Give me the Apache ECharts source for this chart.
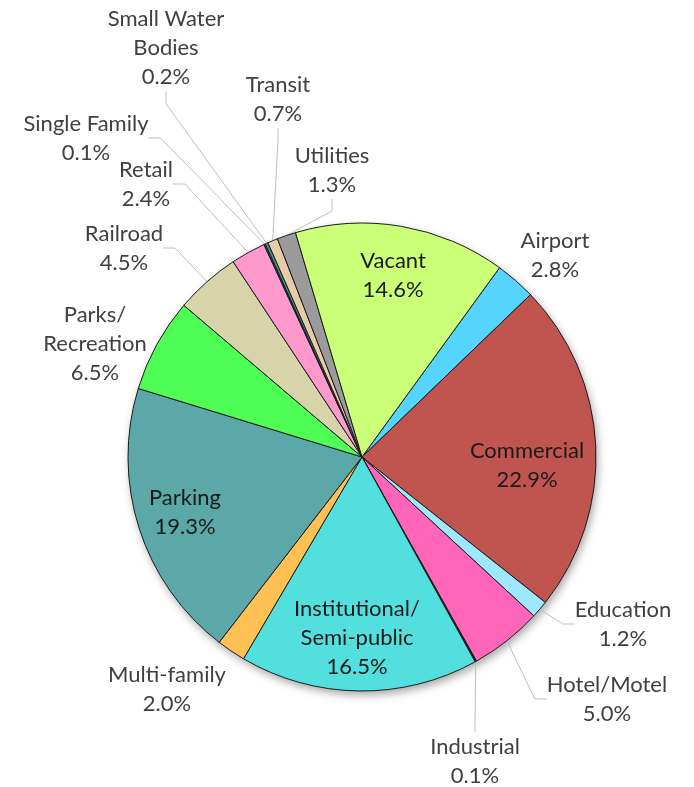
<!DOCTYPE html>
<html>
<head>
<meta charset="utf-8">
<script src="https://cdn.jsdelivr.net/npm/echarts@6/dist/echarts.min.js"></script>
<style>
  html, body { margin: 0; padding: 0; background: #fff; }
  #landUse { width: 694px; height: 787px; }
</style>
</head>
<body>
<div id="landUse"></div>
<script>
// land use shares, in percent
const categories = ['Airport', 'Commercial', 'Education', 'Hotel/Motel', 'Industrial',
  'Institutional/\nSemi-public', 'Multi-family', 'Parking', 'Parks/\nRecreation', 'Railroad',
  'Retail', 'Single Family', 'Small Water\nBodies', 'Transit', 'Utilities', 'Vacant'];
const shares = [2.8, 22.9, 1.2, 5.0, 0.1, 16.5, 2.0, 19.3, 6.5, 4.5, 2.4, 0.1, 0.2, 0.7, 1.3, 14.6];
const colors = ['#55d4fe', '#c0554f', '#9ee8fd', '#ff66b9', '#222222', '#52dfdd', '#ffc153', '#5ca7a8',
  '#4efe55', '#d8d4aa', '#ff99cd', '#1f5a5a', '#3f8f8f', '#e8cba7', '#9b9b9b', '#cbff77'];

// where Excel put each label (center of the text block)
const labelSpot = {
  'Airport': [555, 255],
  'Commercial': [527, 465],
  'Education': [623, 624],
  'Hotel/Motel': [607, 699],
  'Industrial': [475, 761],
  'Institutional/\nSemi-public': [357, 638],
  'Multi-family': [167, 689],
  'Parking': [185, 512],
  'Parks/\nRecreation': [95, 344],
  'Railroad': [124, 248],
  'Retail': [146, 184],
  'Single Family': [86, 138],
  'Small Water\nBodies': [166, 48],
  'Transit': [278, 99],
  'Utilities': [332, 170],
  'Vacant': [393, 275]
};
const insideOnes = ['Commercial', 'Institutional/\nSemi-public', 'Parking', 'Vacant'];
const noLine = ['Airport', 'Parks/\nRecreation', 'Multi-family'];

const chart = echarts.init(document.getElementById('landUse'));

const pieData = categories.map((name, i) => {
  const inside = insideOnes.indexOf(name) >= 0;
  return {
    name: name,
    value: shares[i],
    itemStyle: { color: colors[i] },
    label: { position: inside ? 'inside' : 'outside', color: inside ? '#1a1a1a' : '#404040' },
    labelLine: { show: !inside && noLine.indexOf(name) < 0 }
  };
});

const total = shares.reduce((a, b) => a + b, 0);

const option = {
  backgroundColor: '#fff',
  animation: false,
  series: [
    {
      // just the drop shadow under the pie
      type: 'pie',
      silent: true,
      center: [362, 457],
      radius: 234,
      z: 1,
      label: { show: false },
      labelLine: { show: false },
      itemStyle: {
        color: '#fff',
        shadowBlur: 8,
        shadowOffsetX: 2,
        shadowOffsetY: 4,
        shadowColor: 'rgba(0,0,0,0.35)'
      },
      data: [{ name: 'all', value: total }]
    },
    {
      type: 'pie',
      center: [362, 457],
      radius: 234,
      startAngle: 54,
      clockwise: true,
      avoidLabelOverlap: false,
      z: 2,
      itemStyle: { borderColor: '#1a1a1a', borderWidth: 1 },
      label: {
        show: true,
        fontFamily: 'Lato',
        fontSize: 22,
        lineHeight: 29,
        align: 'center',
        formatter: p => p.name + '\n' + p.value.toFixed(1) + '%'
      },
      labelLine: {
        show: true,
        length: 10,
        length2: 12,
        lineStyle: { color: '#bfbfbf', width: 1 }
      },
      labelLayout: function (params) {
        const spot = labelSpot[categories[params.dataIndex]];
        return { x: spot[0], y: spot[1], align: 'center', verticalAlign: 'middle' };
      },
      data: pieData
    }
  ]
};

chart.setOption(option);
</script>
</body>
</html>
